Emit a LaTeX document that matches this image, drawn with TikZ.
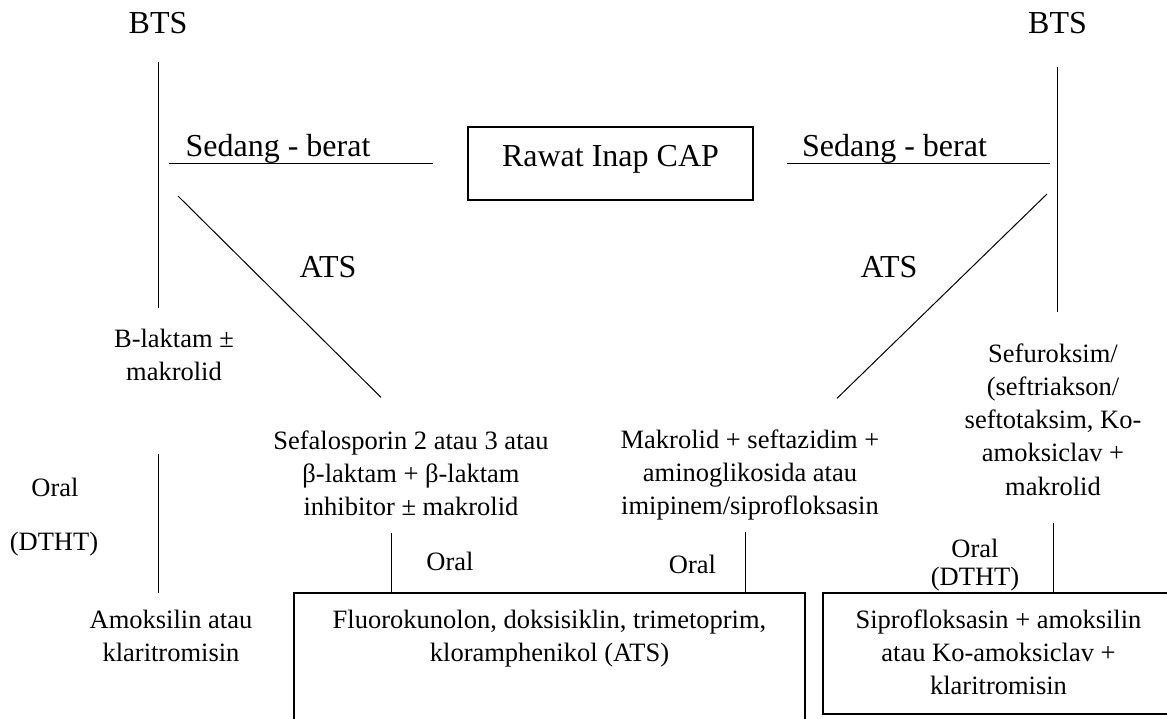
\documentclass[tikz,border=0pt]{standalone}
\usepackage{fontspec}
\setmainfont{Liberation Serif}
\usepackage{tikz}
\tikzset{x=1pt, y=-1pt,
every node/.style={ % plain text, no padding
inner sep=0pt,
outer sep=0pt},
bigtxt/.style={font=\fontsize{32}{38}\selectfont}, % headings
smalltxt/.style={ % drug names
font=\fontsize{26.5}{33.3}\selectfont,
align=center},
thinline/.style={draw, line width=1pt},
thickbox/.style={draw, line width=2pt}}

\begin{document}
\begin{tikzpicture}
\useasboundingbox (0,0) rectangle (1167,719);
\node[bigtxt, anchor=base] (btsL) at (158,34) {BTS};
\node[bigtxt, anchor=base] (btsR) at (1057.5,34) {BTS};
\node[bigtxt, anchor=base] (sedL) at (278,157) {Sedang - berat};
\node[bigtxt, anchor=base] (sedR) at (894.5,157) {Sedang - berat};
\node[bigtxt, thickbox, line width=2.5pt, minimum width=285pt, minimum height=73pt,
  text height=21pt, text depth=14pt] (rawat) at (610.5,163.5) {Rawat Inap CAP};
\node[bigtxt, anchor=base] (atsL) at (328,278) {ATS};
\node[bigtxt, anchor=base] (atsR) at (889,278) {ATS};
\coordinate (cL) at (178,196);
\coordinate (cR) at (1047,194);
% middle row (base = last line)
\node[smalltxt, anchor=base] (blak) at (174,380.3) {B-laktam ±\\makrolid};
\node[smalltxt, anchor=base] (sefa) at (411,515.6) {Sefalosporin 2 atau 3 atau\\β-laktam + β-laktam\\inhibitor ± makrolid};
\node[smalltxt, anchor=base] (makro) at (750,514.6) {Makrolid + seftazidim +\\aminoglikosida atau\\imipinem/siprofloksasin};
\node[smalltxt, anchor=base] (sefu) at (1053,495.2) {Sefuroksim/\\(seftriakson/\\seftotaksim, Ko-\\amoksiclav +\\makrolid};
% oral labels
\node[smalltxt, anchor=base] (oralL) at (55,496) {Oral};
\node[smalltxt, anchor=base] (dthtL) at (54,550) {(DTHT)};
\node[smalltxt, anchor=base] (oralM) at (450,570) {Oral};
\node[smalltxt, anchor=base] (oralN) at (692.5,573) {Oral};
\node[smalltxt, anchor=base] (oralR) at (975,557) {Oral};
\node[smalltxt, anchor=base] (dthtR) at (975,585) {(DTHT)};
% bottom row
\node[smalltxt, anchor=base] (amok) at (171,661.3) {Amoksilin atau\\klaritromisin};
\node[thickbox, anchor=north west, minimum width=511pt, minimum height=140pt] (fbox) at (294,593) {};
\node[thickbox, anchor=north west, minimum width=360pt, minimum height=121pt] (sbox) at (823,593) {};
\node[smalltxt, anchor=base] (ftext) at (549.5,661.3) {Fluorokunolon, doksisiklin, trimetoprim,\\kloramphenikol (ATS)};
\node[smalltxt, anchor=base] (stext) at (998.5,694.6) {Siprofloksasin + amoksilin\\atau Ko-amoksiclav +\\klaritromisin};

\draw[thinline, shorten <=28pt, shorten >=21pt] (btsL.south) -- (btsL.south |- blak.north);
\draw[thinline, shorten <=33pt, shorten >=31pt] (btsR.south) -- (btsR.south |- sefu.north);
\draw[thinline, shorten <=35pt, shorten >=11pt] (rawat.west) -- (rawat.west -| btsL);
\draw[thinline, shorten <=34pt, shorten >=7.5pt] (rawat.east) -- (rawat.east -| btsR);
\draw[thinline] (cL) -- ([xshift=-30pt, yshift=33pt]sefa.north);
\draw[thinline] (cR) -- ([xshift=87pt, yshift=31pt]makro.north);
\draw[thinline, shorten <=73pt, shorten >=17pt] (btsL |- blak.south) -- (btsL |- amok.north);
\draw[thinline, shorten <=17pt] ([xshift=-20pt]sefa.south) -- ([xshift=-20pt]sefa.south |- fbox.north);
\draw[thinline, shorten <=12pt] ([xshift=-5pt]makro.south) -- ([xshift=-5pt]makro.south |- fbox.north);
\draw[thinline, shorten <=28pt] (sefu.south) -- (sefu.south |- sbox.north);
\end{tikzpicture}
\end{document}
